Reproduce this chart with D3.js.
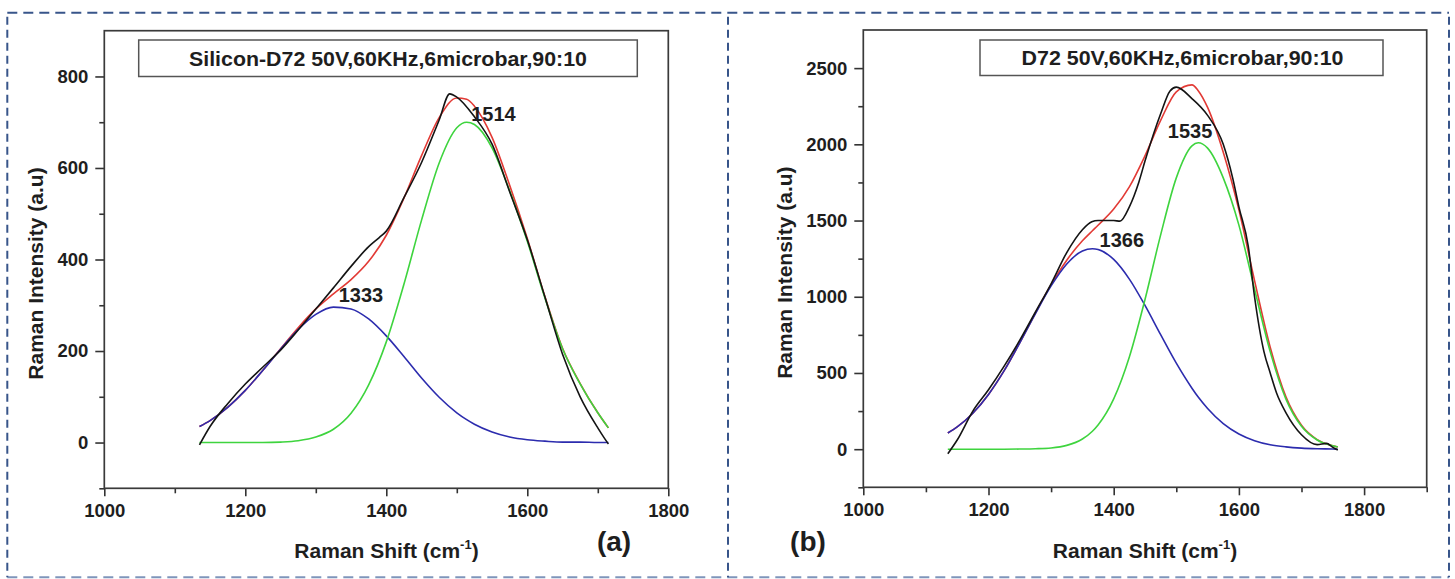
<!DOCTYPE html>
<html><head><meta charset="utf-8">
<script src="https://cdn.jsdelivr.net/npm/d3@7"></script>
<style>
html,body{margin:0;padding:0;background:#fff;}
svg{display:block;}
text{font-family:"Liberation Sans",Arial,sans-serif;font-weight:bold;fill:#1e1e1e;}
</style></head><body>
<svg id="chart" width="1455" height="579"></svg>
<script>
// ---------- Panel (a) data ----------
const fitXA   = [1135,1150,1175,1200,1225,1250,1275,1300,1325,1350,1375,1400,1425,1450,1475,1500,1514,1525,1550,1575,1600,1625,1650,1675,1700,1715];
const blueA   = [35,48,77,114,158,204,247,280,296,292,270,233,188,141,99,65,50,40,23,12,6,3,1,1,0,0];
const greenA  = [0,0,0,0,0,1,4,12,29,64,126,220,346,486,611,688,700,695,644,550,440,316,205,128,65,32];
const redA    = [35,48,77,114,158,205,251,292,325,356,396,453,534,627,710,753,750,735,667,562,446,319,206,129,65,32];
const dataXA  = [1135,1150,1175,1200,1225,1250,1275,1300,1325,1350,1375,1390,1400,1425,1450,1475,1490,1500,1525,1550,1575,1600,1625,1650,1675,1700,1710,1715];
const dataYA  = [-5,35,85,128,165,202,246,292,338,385,428,448,462,535,612,705,762,755,712,652,548,443,318,193,100,32,8,-3];
const legendA = "Silicon-D72 50V,60KHz,6microbar,90:10";
const peaksA  = [{text:"1333", x:1364, y:308}, {text:"1514", x:1552, y:702}];
const xTicksA = [1000,1200,1400,1600,1800];
const xMinorA = [1100,1300,1500,1700];
const yTicksA = [0,200,400,600,800];
const yMinorA = [-100,100,300,500,700];

// ---------- Panel (b) data ----------
const fitXB   = [1135,1150,1175,1200,1225,1250,1275,1300,1325,1350,1366,1375,1400,1425,1450,1475,1500,1525,1535,1550,1575,1600,1625,1650,1675,1700,1725,1750,1758];
const blueB   = [106,146,236,359,515,698,890,1071,1215,1300,1315,1310,1245,1116,943,751,564,400,342,267,168,100,56,29,15,7,3,1,0];
const greenB  = [0,0,0,0,0,1,3,8,25,67,118,159,330,605,982,1406,1780,1990,2010,1975,1780,1470,1050,640,330,150,60,22,14];
const redB    = [106,146,236,359,515,699,893,1079,1240,1367,1433,1469,1575,1721,1925,2157,2344,2390,2352,2242,1948,1570,1106,669,345,157,63,23,14];
const dataXB  = [1135,1150,1175,1200,1225,1250,1275,1300,1325,1350,1365,1375,1400,1410,1425,1440,1450,1475,1490,1500,1525,1550,1575,1590,1600,1615,1625,1640,1650,1660,1675,1700,1725,1740,1750,1758];
const dataYB  = [-30,60,250,390,545,715,900,1085,1290,1440,1492,1500,1500,1496,1590,1750,1890,2200,2350,2375,2300,2190,2000,1780,1590,1330,1000,640,500,370,240,95,30,38,12,-5];
const legendB = "D72 50V,60KHz,6microbar,90:10";
const peaksB  = [{text:"1366", x:1413, y:1329}, {text:"1535", x:1522, y:2039}];
const xTicksB = [1000,1200,1400,1600,1800];
const xMinorB = [1100,1300,1500,1700,1900];
const yTicksB = [0,500,1000,1500,2000,2500];
const yMinorB = [-250,250,750,1250,1750,2250];

const COLORS = {black:"#141414", red:"#e23a35", green:"#3ed43e", blue:"#2c2cae"};

const svg = d3.select("#chart");

// outer dashed border + separator
const borderTop = 12.7, borderBottom = 577.3, borderLeft = 7.3, borderRight = 1449, sep = 728;
svg.append("line").attr("x1",borderLeft).attr("x2",borderRight).attr("y1",borderTop).attr("y2",borderTop)
  .attr("stroke","#38558a").attr("stroke-width",2).attr("stroke-dasharray","10,6");
svg.append("line").attr("x1",borderLeft).attr("x2",borderRight).attr("y1",borderBottom).attr("y2",borderBottom)
  .attr("stroke","#7f95bb").attr("stroke-width",2).attr("stroke-dasharray","10,6");
[borderLeft, sep, borderRight].forEach(xx => {
  svg.append("line").attr("x1",xx).attr("x2",xx).attr("y1",borderTop+4).attr("y2",borderBottom)
    .attr("stroke","#38558a").attr("stroke-width",2).attr("stroke-dasharray","8,5");
});

function drawPanel(cfg){
  const g = svg.append("g");
  const x = d3.scaleLinear().domain(cfg.xDomain).range([cfg.left, cfg.right]);
  const y = d3.scaleLinear().domain(cfg.yDomain).range([cfg.bottom, cfg.top]);

  const styleAxis = sel => {
    sel.select(".domain").remove();
    sel.attr("font-size", null).attr("font-family", null);
    sel.selectAll(".tick line").attr("stroke","#333").attr("stroke-width",1.6);
    sel.selectAll(".tick text").style("font-size","18.5px").attr("fill","#1e1e1e")
      .style("font-family","'Liberation Sans',Arial,sans-serif").style("font-weight","bold");
  };
  g.append("g").attr("transform",`translate(0,${cfg.bottom})`)
    .call(d3.axisBottom(x).tickValues(cfg.xTicks).tickSize(8).tickPadding(7.5).tickFormat(d3.format("d"))).call(styleAxis);
  g.append("g").attr("transform",`translate(0,${cfg.bottom})`)
    .call(d3.axisBottom(x).tickValues(cfg.xMinor).tickSize(5).tickFormat("")).call(styleAxis);
  g.append("g").attr("transform",`translate(${cfg.left},0)`)
    .call(d3.axisLeft(y).tickValues(cfg.yTicks).tickSize(9).tickPadding(7).tickFormat(d3.format("d"))).call(styleAxis);
  g.append("g").attr("transform",`translate(${cfg.left},0)`)
    .call(d3.axisLeft(y).tickValues(cfg.yMinor).tickSize(5).tickFormat("")).call(styleAxis);

  // frame
  g.append("rect").attr("x",cfg.left).attr("y",cfg.top)
    .attr("width",cfg.right-cfg.left).attr("height",cfg.bottom-cfg.top)
    .attr("fill","none").attr("stroke","#3a3a3a").attr("stroke-width",1.7);

  // legend box
  g.append("rect").attr("x",cfg.legendBox[0]).attr("y",cfg.legendBox[1])
    .attr("width",cfg.legendBox[2]-cfg.legendBox[0]).attr("height",cfg.legendBox[3]-cfg.legendBox[1])
    .attr("fill","#fff").attr("stroke","#555").attr("stroke-width",1.5);
  g.append("text").attr("x",(cfg.legendBox[0]+cfg.legendBox[2])/2 + cfg.legendShift).attr("y",(cfg.legendBox[1]+cfg.legendBox[3])/2+7.5)
    .attr("text-anchor","middle").attr("font-size","21px")
    .attr("textLength", cfg.legendWidth).attr("lengthAdjust","spacingAndGlyphs").text(cfg.legend);

  // curves
  const line = d3.line().x(d=>x(d[0])).y(d=>y(d[1])).curve(d3.curveMonotoneX);
  const pairs = (xs, ys) => xs.map((v,i)=>[v, ys[i]]);
  const series = [
    {xs:cfg.fitX, ys:cfg.red, c:COLORS.red},
    {xs:cfg.fitX, ys:cfg.blue, c:COLORS.blue},
    {xs:cfg.fitX, ys:cfg.green, c:COLORS.green},
    {xs:cfg.dataX, ys:cfg.dataY, c:COLORS.black}
  ];
  series.forEach(s => {
    g.append("path").datum(pairs(s.xs, s.ys)).attr("d", line)
      .attr("fill","none").attr("stroke", s.c).attr("stroke-width",1.6).attr("stroke-linejoin","round");
  });

  // peak labels
  cfg.peaks.forEach(p => {
    g.append("text").attr("x", x(p.x)).attr("y", y(p.y)).attr("text-anchor","middle")
      .attr("font-size","20px").text(p.text);
  });

  // axis titles
  const xt = g.append("text").attr("x", cfg.xTitleX).attr("y", 558).attr("text-anchor","middle").attr("font-size","21px");
  xt.append("tspan").text("Raman Shift (cm");
  xt.append("tspan").attr("font-size","13px").attr("dy","-9").text("-1");
  xt.append("tspan").attr("dy","9").text(")");

  g.append("text").attr("transform",`translate(${cfg.yTitleX},${(cfg.top+cfg.bottom)/2+14}) rotate(-90)`)
    .attr("text-anchor","middle").attr("font-size","21px").text("Raman Intensity (a.u)");

  // panel label
  g.append("text").attr("x", cfg.tagX).attr("y", 551).attr("text-anchor","middle")
    .attr("font-family","'Liberation Serif','Times New Roman',serif").attr("font-weight","bold")
    .attr("font-size","28px").text(cfg.tag);
}

drawPanel({
  left:104.3, right:668.3, top:30.7, bottom:488.3,
  xDomain:[1000,1800], yDomain:[-100,900],
  xTicks:xTicksA, xMinor:xMinorA, yTicks:yTicksA, yMinor:yMinorA,
  fitX:fitXA, blue:blueA, green:greenA, red:redA, dataX:dataXA, dataY:dataYA,
  legend:legendA, legendBox:[138.7,40,637.3,76.5], legendShift:0, legendWidth:398,
  peaks:peaksA, xTitleX:386.5, yTitleX:43, tag:"(a)", tagX:614
});
drawPanel({
  left:863.3, right:1426.7, top:30, bottom:487.3,
  xDomain:[1000,1900], yDomain:[-250,2750],
  xTicks:xTicksB, xMinor:xMinorB, yTicks:yTicksB, yMinor:yMinorB,
  fitX:fitXB, blue:blueB, green:greenB, red:redB, dataX:dataXB, dataY:dataYB,
  legend:legendB, legendBox:[980,40,1383,75.5], legendShift:1, legendWidth:322,
  peaks:peaksB, xTitleX:1145, yTitleX:792, tag:"(b)", tagX:808
});
</script>
</body></html>
